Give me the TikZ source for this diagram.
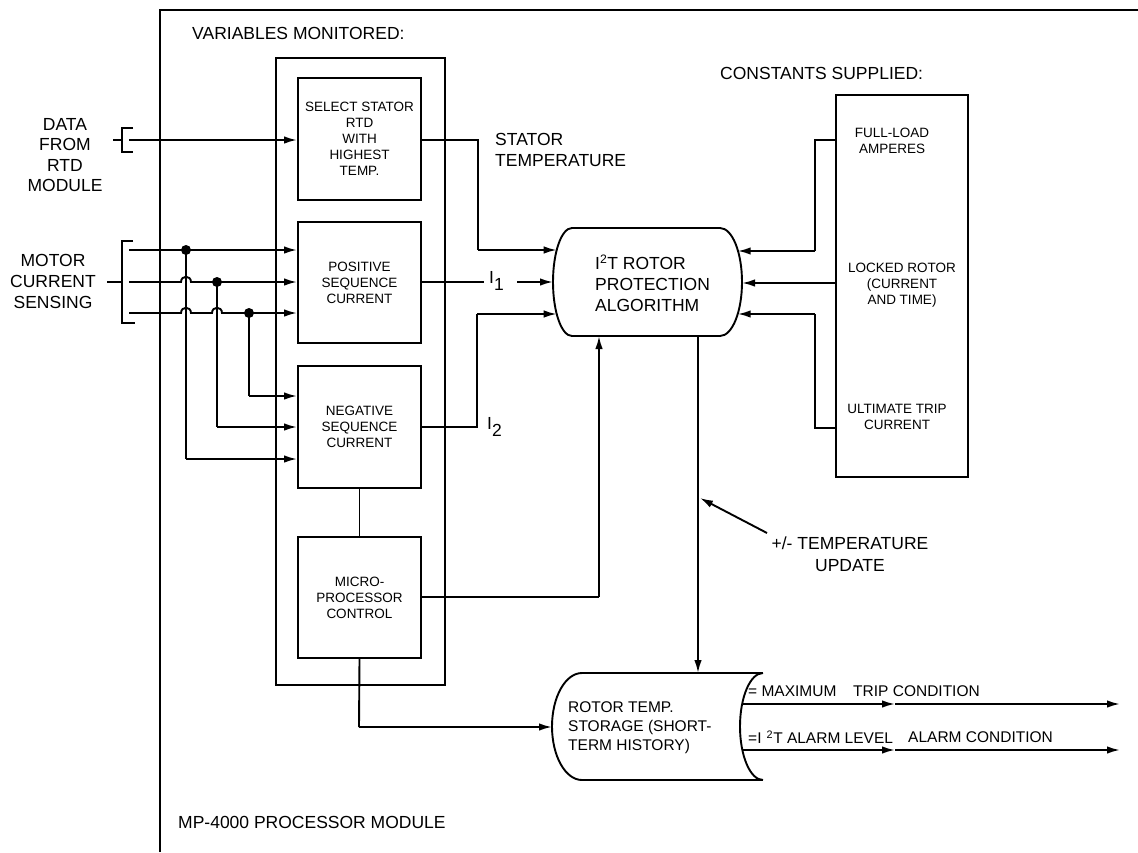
\documentclass[tikz,border=0pt]{standalone}
\usepackage{fontspec}
\setmainfont{Liberation Sans}
\usetikzlibrary{arrows.meta}
\begin{document}
\begin{tikzpicture}[x=1pt,y=-1pt,
  ln/.style={line width=1.9pt},
  arr/.style={line width=1.9pt,-{Latex[length=13pt,width=7.5pt]}},
  box/.style={draw,line width=1.9pt,rectangle,inner sep=0pt,align=center,font=\fontsize{13.5}{16}\selectfont},
  big/.style={font=\fontsize{17.5}{21}\selectfont,inner sep=0pt},
  mid/.style={font=\fontsize{15.5}{19}\selectfont,inner sep=0pt},
  sml/.style={font=\fontsize{13.5}{16}\selectfont,inner sep=0pt,align=center},
  dot/.style={circle,fill,inner sep=0pt,minimum size=10pt}
]
\useasboundingbox (0,0) rectangle (1138,852);
% outer frame
\coordinate (fbl) at (160,852); \coordinate (ftl) at (160,10); \coordinate (ftr) at (1138,10);
\draw[ln] (fbl) -- (ftl) -- (ftr);
\node[big,anchor=west] (varlab) at (192,33) {VARIABLES MONITORED:};
\node[big,anchor=west] (conlab) at (720,73) {CONSTANTS SUPPLIED:};
\node[big,anchor=west] (mplab) at (178,822) {MP-4000 PROCESSOR MODULE};

% variables box and inner boxes
\node[box,minimum width=169pt,minimum height=627pt] (vbox) at (360.5,371.5) {};
\node[box,minimum width=123pt,minimum height=122pt] (sel) at (359.5,139) {SELECT STATOR\\RTD\\WITH\\HIGHEST\\TEMP.};
\node[box,minimum width=123pt,minimum height=121pt] (pos) at (359.5,282.5) {POSITIVE\\SEQUENCE\\CURRENT};
\node[box,minimum width=123pt,minimum height=122pt] (neg) at (359.5,427) {NEGATIVE\\SEQUENCE\\CURRENT};
\node[box,minimum width=123pt,minimum height=121pt] (mic) at (359.5,597.5) {MICRO-\\PROCESSOR\\CONTROL};

% constants box
\node[box,minimum width=132pt,minimum height=382pt] (cbox) at (902,286) {};
\node[sml] (fla) at (892,141) {FULL-LOAD\\AMPERES};
\node[sml] (lr) at (902,285) {LOCKED ROTOR\\(CURRENT\\AND TIME)};
\node[sml] (utc) at (897,417) {ULTIMATE TRIP\\CURRENT};

% left labels and brackets
\node[big,align=center,font=\fontsize{17.5}{20.5}\selectfont] (datalab) at (65,155) {DATA\\FROM\\RTD\\MODULE};
\node[big,align=center] (motlab) at (53,281) {MOTOR\\CURRENT\\SENSING};
\coordinate (db1) at (133,128); \coordinate (db2) at (122,128); \coordinate (db3) at (122,152); \coordinate (db4) at (133,152);
\coordinate (ds1) at (113,140); \coordinate (ds2) at (122,140);
\draw[ln] (db1) -- (db2) -- (db3) -- (db4);
\draw[ln] (ds1) -- (ds2);
\coordinate (mb1) at (133,241); \coordinate (mb2) at (122,241); \coordinate (mb3) at (122,323); \coordinate (mb4) at (135,323);
\coordinate (ms1) at (107,282); \coordinate (ms2) at (122,282);
\draw[ln] (mb1) -- (mb2) -- (mb3) -- (mb4);
\draw[ln] (ms1) -- (ms2);

% data line
\coordinate (d0) at (129,140);
\draw[arr] (d0) -- (d0 -| sel.west);

% motor current lines
\coordinate (l1) at (129,250); \coordinate (l2) at (129,282); \coordinate (l3) at (129,313);
\node[dot] (j1) at (186,250) {};
\node[dot] (j2) at (217,282) {};
\node[dot] (j3) at (249,313) {};
\draw[arr] (l1) -- (l1 -| pos.west);
\draw[arr] (l2) -- (181,282) .. controls (181,275) and (191,275) .. (191,282) -- (l2 -| pos.west);
\draw[arr] (l3) -- (181,313) .. controls (181,306) and (191,306) .. (191,313)
   -- (212,313) .. controls (212,306) and (222,306) .. (222,313) -- (l3 -| pos.west);
\coordinate (n1) at (186,459); \coordinate (n2) at (217,427); \coordinate (n3) at (249,396);
\draw[ln] (j1.center) -- (n1); \draw[arr] (n1) -- (n1 -| neg.west);
\draw[ln] (j2.center) -- (n2); \draw[arr] (n2) -- (n2 -| neg.west);
\draw[ln] (j3.center) -- (n3); \draw[arr] (n3) -- (n3 -| neg.west);

% algorithm
\coordinate (alg) at (647,282);
\draw[ln] (572,228) -- (720,228) .. controls (732.2,228) and (742,252.2) .. (742,282)
  .. controls (742,311.8) and (732.2,336) .. (720,336) -- (572,336)
  .. controls (561.5,336) and (553,311.8) .. (553,282)
  .. controls (553,252.2) and (561.5,228) .. (572,228) -- cycle;
\node[big,anchor=west,align=left] (algtxt) at (595,283) {I\textsuperscript{2}T ROTOR\\PROTECTION\\ALGORITHM};
\coordinate (aL1) at (556.7,250); \coordinate (aL2) at (553,282); \coordinate (aL3) at (556.7,314);
\coordinate (aR1) at (737.7,251); \coordinate (aR2) at (742,283); \coordinate (aR3) at (737.7,314);
\coordinate (aB1) at (599,336); \coordinate (aB2) at (698,336);

% inputs to algorithm
\coordinate (s1) at (478,140); \coordinate (s2) at (478,250);
\draw[ln] (sel.east |- s1) -- (s1) -- (s2);
\draw[arr] (s2) -- (aL1);
\node[big,anchor=west,align=left] (stlab) at (495,150) {STATOR\\TEMPERATURE};
\coordinate (p1) at (484,282); \coordinate (p2) at (517,282);
\draw[ln] (pos.east |- p1) -- (p1);
\node[big,anchor=west] (i1) at (489,281) {I\raisebox{-7pt}{1}};
\draw[arr] (p2) -- (aL2);
\coordinate (q1) at (477,427); \coordinate (q2) at (477,314);
\draw[ln] (neg.east |- q1) -- (q1) -- (q2);
\draw[arr] (q2) -- (aL3);
\node[big,anchor=west] (i2) at (487,427) {I\raisebox{-7pt}{2}};
\coordinate (m1) at (599,597);
\draw[ln] (mic.east |- m1) -- (m1);
\draw[arr] (m1) -- (aB1);
\draw[ln] (neg.south) -- (mic.north);

% constants to algorithm
\coordinate (c1a) at (836,140); \coordinate (c1b) at (815,140); \coordinate (c1c) at (815,251);
\draw[ln] (c1a) -- (c1b) -- (c1c); \draw[arr] (c1c) -- (aR1);
\coordinate (c2a) at (836,283);
\draw[arr] (c2a) -- (aR2);
\coordinate (c3a) at (836,428); \coordinate (c3b) at (815,428); \coordinate (c3c) at (815,314);
\draw[ln] (c3a) -- (c3b) -- (c3c); \draw[arr] (c3c) -- (aR3);

% storage
\draw[ln] (582,673) -- (763,673);
\draw[ln] (582,780) -- (763,780);
\draw[ln] (582,673) .. controls (565.4,673) and (552,697) .. (552,726.5)
  .. controls (552,756) and (565.4,780) .. (582,780);
\draw[ln] (763,673) .. controls (750.3,673) and (740,697) .. (740,726.5)
  .. controls (740,756) and (750.3,780) .. (763,780);
\node[mid,anchor=west,align=left] (stor) at (568,728) {ROTOR TEMP.\\STORAGE (SHORT-\\TERM HISTORY)};
\coordinate (stT) at (698,673); \coordinate (stL) at (552,727);
\draw[arr] (aB2) -- (stT);
\coordinate (mc1) at (359,727);
\draw[ln] (mic.south) -- (mc1);
\draw[arr] (mc1) -- (stL);

% temperature update
\coordinate (tu1) at (767,533); \coordinate (tu2) at (700,498);
\draw[arr] (tu1) -- (tu2);
\node[big,align=center,font=\fontsize{17.5}{22}\selectfont] (tulab) at (850,554) {+/- TEMPERATURE\\UPDATE};

% outputs
\coordinate (o1a) at (742,704); \coordinate (o1b) at (895,704); \coordinate (o1c) at (1120,704);
\coordinate (o2a) at (742,750); \coordinate (o2b) at (895,750); \coordinate (o2c) at (1120,750);
\draw[arr] (o1a) -- (o1b); \draw[arr] (o1b) -- (o1c);
\draw[arr] (o2a) -- (o2b); \draw[arr] (o2b) -- (o2c);
\node[mid,anchor=west] (t1) at (748,691) {= MAXIMUM};
\node[mid,anchor=west] (t2) at (853,691) {TRIP CONDITION};
\node[mid,anchor=west] (t3) at (748,737) {=I\,\,\textsuperscript{2}T ALARM LEVEL};
\node[mid,anchor=west] (t4) at (908,737) {ALARM CONDITION};
\end{tikzpicture}
\end{document}
